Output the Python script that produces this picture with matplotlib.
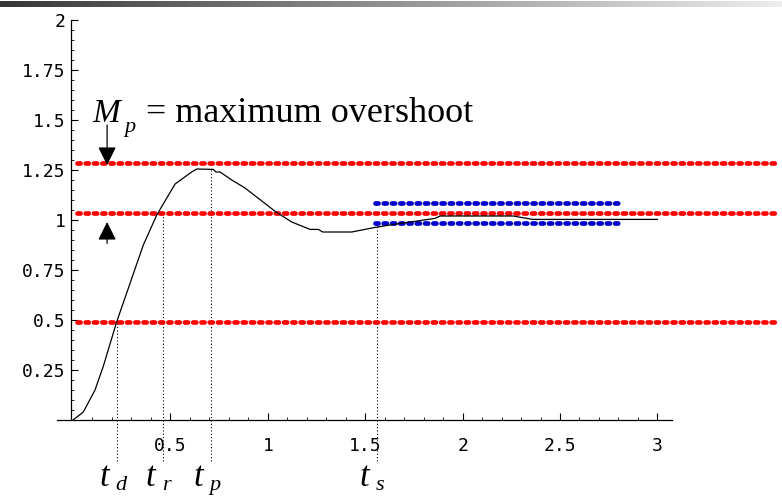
import numpy as np
import matplotlib.pyplot as plt

# step response (time, output)
curve_t = [0.0, 0.053, 0.113, 0.156, 0.224, 0.361, 0.43, 0.524, 0.609, 0.635,
           0.72, 0.734, 0.755, 0.815, 0.883, 1.042, 1.123, 1.217, 1.259, 1.282,
           1.431, 1.55, 1.627, 1.781, 1.858, 1.884, 2.259, 2.361, 3.0]
curve_y = [0.0, 0.04, 0.15, 0.27, 0.49, 0.875, 1.025, 1.18, 1.24, 1.255,
           1.253, 1.24, 1.24, 1.20, 1.16, 1.04, 0.99, 0.953, 0.953, 0.94,
           0.94, 0.963, 0.975, 0.997, 1.008, 1.02, 1.02, 1.003, 1.003]

red_levels = [1.283, 1.035, 0.49]
red_span = (0.022, 3.61)
blue_levels = [1.083, 0.987]
blue_span = (1.55, 2.817)

# characteristic times: (time, top of dotted line, subscript)
mark_t = [0.224, 0.464, 0.707, 1.559]
mark_top = [0.49, 1.035, 1.255, 0.987]
mark_sub = ['d', 'r', 'p', 's']

xticks = [0.5, 1, 1.5, 2, 2.5, 3]
xlabels = ['0.5', '1', '1.5', '2', '2.5', '3']
yticks = [0.25, 0.5, 0.75, 1, 1.25, 1.5, 1.75, 2]
ylabels = ['0.25', '0.5', '0.75', '1', '1.25', '1.5', '1.75', '2']

fig = plt.figure(figsize=(7.82, 4.98), dpi=100)

# slide header bar
bar = fig.add_axes([0, 1 - 7 / 498, 1, 6 / 498])
grad = np.linspace(0, 1, 256)[None, :]
bar.imshow(grad, aspect='auto', cmap='gray', vmin=-0.3, vmax=1.1)
bar.axis('off')

ax = fig.add_axes([0, 0, 1, 1 - 8 / 498])
ax.patch.set_alpha(0)
ax.set_xlim(-73 / 194.8, (782 - 73) / 194.8)
ax.set_ylim(-78 / 200, 412 / 200)

for s in ['top', 'right']:
    ax.spines[s].set_visible(False)
ax.spines['left'].set_position(('data', -0.01))
ax.spines['left'].set_bounds(0, 2)
ax.spines['bottom'].set_position(('data', 0))
ax.spines['bottom'].set_bounds(-0.082, 3.075)
for s in ['left', 'bottom']:
    ax.spines[s].set_linewidth(0.9)

ax.set_xticks(xticks)
ax.set_xticklabels(xlabels)
ax.set_yticks(yticks)
ax.set_yticklabels(ylabels)
ax.set_xticks([v for v in np.arange(0.1, 3.05, 0.1) if abs(v * 2 - round(v * 2)) > 1e-6], minor=True)
ax.set_yticks([v for v in np.arange(0.05, 2.0, 0.05) if abs(v * 4 - round(v * 4)) > 1e-6], minor=True)
ax.tick_params(which='major', direction='in', length=5, width=0.8, labelsize=13)
ax.tick_params(which='minor', direction='in', length=2.5, width=0.6)
ax.tick_params(axis='x', which='major', pad=12)
ax.tick_params(axis='y', which='major', pad=4)
for lab in ax.get_xticklabels() + ax.get_yticklabels():
    lab.set_family('DejaVu Sans Mono')

for lvl in red_levels:
    ax.plot(red_span, [lvl, lvl], color='#ff0000', lw=3.4, dashes=(0.65, 1.1),
            dash_capstyle='round', zorder=3)
for lvl in blue_levels:
    ax.plot(blue_span, [lvl, lvl], color='#0000cc', lw=3.4, dashes=(0.65, 1.1),
            dash_capstyle='round', zorder=3)

ax.plot(curve_t, curve_y, color='black', lw=0.9, zorder=4)

serif = 'Liberation Serif'
for t, top, sub in zip(mark_t, mark_top, mark_sub):
    ax.plot([t, t], [-0.205, top], color='black', lw=0.8, ls=(0, (1, 2)), zorder=2)
    ax.text(t - 0.09, -0.33, 't', family=serif, style='italic',
            fontsize=25, ha='left', va='baseline')
    ax.text(t - 0.005, -0.35, sub, family=serif, style='italic',
            fontsize=16, ha='left', va='baseline')

# overshoot annotation
ax.text(0.1, 1.49, 'M', family=serif, style='italic', fontsize=24, va='baseline')
ax.text(0.262, 1.44, 'p', family=serif, style='italic', fontsize=16, va='baseline')
ax.text(0.375, 1.49, '= maximum overshoot', family=serif, fontsize=26, va='baseline')

ax.annotate('', xy=(0.175, 1.275), xytext=(0.175, 1.475),
            arrowprops=dict(arrowstyle='-|>', color='black', lw=0.9,
                            mutation_scale=28, shrinkA=0, shrinkB=0), zorder=5)
ax.annotate('', xy=(0.175, 0.99), xytext=(0.175, 0.883),
            arrowprops=dict(arrowstyle='-|>', color='black', lw=0.9,
                            mutation_scale=28, shrinkA=0, shrinkB=0), zorder=5)

fig.savefig('out.png', dpi=100)
